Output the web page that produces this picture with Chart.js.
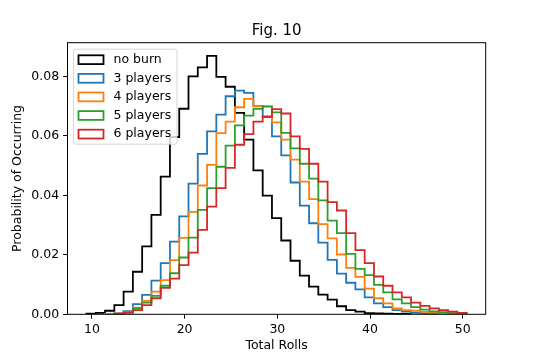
<!DOCTYPE html>
<html>
<head>
<meta charset="utf-8">
<script src="https://cdn.jsdelivr.net/npm/chart.js@4.4.0/dist/chart.umd.min.js"></script>
<style>
  html, body { margin: 0; padding: 0; background: #ffffff; }
  #wrap { width: 540px; height: 360px; }
</style>
</head>
<body>
<div id="wrap"><canvas id="myChart" width="540" height="360"></canvas></div>
<script>
// histogram bins are one roll wide; this is the left edge of bin 0
var firstEdge = 9.42;

var seriesNames = ["no burn", "3 players", "4 players", "5 players", "6 players"];
var seriesColors = ["#000000", "#1f77b4", "#ff7f0e", "#2ca02c", "#d62728"];
// index of the first bin of each series (counted from firstEdge)
var startBin = [0, 2, 2, 3, 3];

var noBurn = [0.0002, 0.0005, 0.0012, 0.0031, 0.0076, 0.0143, 0.0228, 0.0334, 0.0463, 0.0596,
  0.0691, 0.0800, 0.0830, 0.0869, 0.0798, 0.0765, 0.0677, 0.0587, 0.0484, 0.0399,
  0.0323, 0.0248, 0.0180, 0.0130, 0.0093, 0.0066, 0.0049, 0.0027, 0.0014, 0.0009,
  0.0004, 0.0003, 0.0002, 0.0001, 0.0001];
var players3 = [0.0001, 0.0003, 0.0011, 0.0034, 0.0065, 0.0113, 0.0172, 0.0244, 0.0329, 0.0439,
  0.0539, 0.0615, 0.0671, 0.0733, 0.0752, 0.0744, 0.0700, 0.0663, 0.0598, 0.0534,
  0.0443, 0.0365, 0.0306, 0.0241, 0.0183, 0.0137, 0.0106, 0.0084, 0.0057, 0.0037,
  0.0024, 0.0014, 0.0009, 0.0005, 0.0003, 0.0002];
var players4 = [0.0001, 0.0002, 0.0008, 0.0022, 0.0045, 0.0076, 0.0115, 0.0182, 0.0257, 0.0344,
  0.0433, 0.0502, 0.0609, 0.0648, 0.0696, 0.0724, 0.0700, 0.0698, 0.0645, 0.0587,
  0.0520, 0.0446, 0.0387, 0.0303, 0.0255, 0.0201, 0.0156, 0.0126, 0.0086, 0.0054,
  0.0037, 0.0020, 0.0014, 0.0012, 0.0008, 0.0006, 0.0004, 0.0002];
var players5 = [0.0001, 0.0007, 0.0020, 0.0039, 0.0062, 0.0096, 0.0138, 0.0191, 0.0258, 0.0351,
  0.0424, 0.0496, 0.0567, 0.0635, 0.0668, 0.0691, 0.0699, 0.0679, 0.0610, 0.0558,
  0.0506, 0.0456, 0.0383, 0.0315, 0.0273, 0.0203, 0.0153, 0.0132, 0.0099, 0.0074,
  0.0050, 0.0037, 0.0024, 0.0016, 0.0010, 0.0007, 0.0004, 0.0002];
var players6 = [0.0002, 0.0005, 0.0014, 0.0031, 0.0054, 0.0089, 0.0120, 0.0165, 0.0207, 0.0284,
  0.0362, 0.0424, 0.0492, 0.0570, 0.0606, 0.0648, 0.0665, 0.0690, 0.0675, 0.0598,
  0.0556, 0.0506, 0.0446, 0.0377, 0.0349, 0.0273, 0.0216, 0.0172, 0.0127, 0.0096,
  0.0074, 0.0057, 0.0039, 0.0028, 0.0020, 0.0014, 0.0009, 0.0005];

var xTicks = [10, 20, 30, 40, 50];
var yTicks = [0, 0.02, 0.04, 0.06, 0.08];

var allSeries = [noBurn, players3, players4, players5, players6];

// outline of a step histogram: up at the first edge, across each bin, down at the last edge
function stepPoints(start, vals) {
  var e0 = firstEdge + start;
  var pts = [{ x: e0, y: 0 }];
  vals.forEach(function(v, i) {
    pts.push({ x: e0 + i, y: v });
    pts.push({ x: e0 + i + 1, y: v });
  });
  pts.push({ x: e0 + vals.length, y: 0 });
  return pts;
}

var datasets = allSeries.map(function(vals, i) {
  return {
    label: seriesNames[i],
    data: stepPoints(startBin[i], vals),
    borderColor: seriesColors[i],
    borderWidth: 1.8,
    pointRadius: 0,
    fill: false,
    tension: 0,
    order: allSeries.length - 1 - i  // later series drawn on top
  };
});

var font = "DejaVu Sans";

var framePlugin = {
  id: 'frame',
  afterDraw: function(chart) {
    var ctx = chart.ctx;
    var a = chart.chartArea;
    ctx.save();
    // axes box
    ctx.strokeStyle = '#000';
    ctx.lineWidth = 1;
    ctx.strokeRect(a.left, a.top, a.right - a.left, a.bottom - a.top);

    // title
    ctx.fillStyle = '#000';
    ctx.font = '15px "' + font + '"';
    ctx.textAlign = 'center';
    ctx.textBaseline = 'alphabetic';
    ctx.fillText('Fig. 10', (a.left + a.right) / 2, a.top - 7.5);

    // legend, upper left inside the axes
    var lx = a.left + 6, ly = a.top + 6.5, lw = 103.5, lh = 95;
    ctx.beginPath();
    ctx.roundRect(lx, ly, lw, lh, 2.5);
    ctx.fillStyle = 'rgba(255,255,255,0.8)';
    ctx.fill();
    ctx.strokeStyle = 'rgba(204,204,204,0.8)';
    ctx.lineWidth = 1;
    ctx.stroke();
    ctx.font = '12.5px "' + font + '"';
    ctx.textAlign = 'left';
    ctx.textBaseline = 'middle';
    chart.data.datasets.forEach(function(ds, i) {
      var cy = ly + 10.5 + i * 18.6;
      ctx.strokeStyle = ds.borderColor;
      ctx.lineWidth = 1.8;
      ctx.strokeRect(lx + 5, cy - 4.4, 25, 8.8);
      ctx.fillStyle = '#000';
      ctx.fillText(ds.label, lx + 40, cy);
    });
    ctx.restore();
  }
};

new Chart("myChart", {
  type: "line",
  data: { datasets: datasets },
  options: {
    responsive: false,
    animation: false,
    events: [],
    layout: { padding: { left: 0, right: 54.3, top: 42.7, bottom: 0 } },
    plugins: {
      legend: { display: false },
      title: { display: false },
      tooltip: { enabled: false }
    },
    scales: {
      x: {
        type: 'linear',
        min: 7.37,
        max: 52.47,
        border: { display: false },
        grid: { drawOnChartArea: false, drawTicks: true, tickLength: 4.4, color: '#000', lineWidth: 1 },
        ticks: { color: '#000', padding: 4, font: { family: font, size: 12.5 }, maxRotation: 0 },
        afterBuildTicks: function(scale) {
          scale.ticks = xTicks.map(function(v) { return { value: v }; });
        },
        afterFit: function(scale) { scale.height = 45.7; },
        title: { display: true, text: 'Total Rolls', color: '#000', font: { family: font, size: 12.5 }, padding: { top: 0, bottom: 6.5 } }
      },
      y: {
        min: 0,
        max: 0.0913,
        border: { display: false },
        grid: { drawOnChartArea: false, drawTicks: true, tickLength: 4.4, color: '#000', lineWidth: 1 },
        ticks: {
          color: '#000', padding: 4, font: { family: font, size: 12.5 },
          callback: function(v) { return v.toFixed(2); }
        },
        afterBuildTicks: function(scale) {
          scale.ticks = yTicks.map(function(v) { return { value: v }; });
        },
        afterFit: function(scale) { scale.width = 67.5; },
        title: { display: true, text: 'Probability of Occurring', color: '#000', font: { family: font, size: 12.5 }, padding: { top: 10.5, bottom: 0 } }
      }
    }
  },
  plugins: [framePlugin]
});
</script>
</body>
</html>
